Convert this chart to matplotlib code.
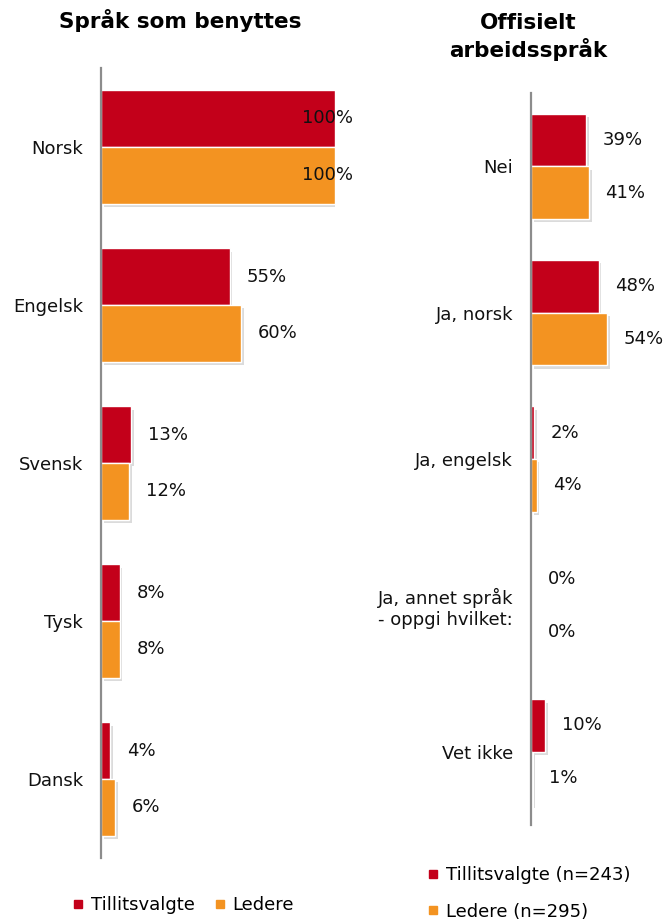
import matplotlib
matplotlib.use("Agg")
import matplotlib.pyplot as plt
import matplotlib.patheffects as pe
from matplotlib.lines import Line2D
import numpy as np

plt.rcParams['font.family'] = ['DejaVu Sans']

# data
left_title = "Språk som benyttes"
left_cats = ["Norsk", "Engelsk", "Svensk", "Tysk", "Dansk"]
left_tillit = [100, 55, 13, 8, 4]
left_ledere = [100, 60, 12, 8, 6]

right_title = "Offisielt\narbeidsspråk"
right_cats = ["Nei", "Ja, norsk", "Ja, engelsk", "Ja, annet språk\n- oppgi hvilket:", "Vet ikke"]
right_tillit = [39, 48, 2, 0, 10]
right_ledere = [41, 54, 4, 0, 1]

RED = "#C3001A"
ORANGE = "#F39321"
SPINE = "#8C8C8C"
FS = 13

fig = plt.figure(figsize=(6.71, 9.23), dpi=100)

ax1 = fig.add_axes([0.1505, 0.0704, 0.3487, 0.856])
ax2 = fig.add_axes([0.7914, 0.1062, 0.2101, 0.793])

shadow = [pe.SimplePatchShadow(offset=(2, -2.5), shadow_rgbFace="#999999", alpha=0.35), pe.Normal()]


def draw_panel(ax, cats, s1, s2):
    y = np.arange(len(cats))
    h = 0.36
    b1 = ax.barh(y - h / 2, s1, height=h, color=RED, edgecolor="white", linewidth=1)
    b2 = ax.barh(y + h / 2, s2, height=h, color=ORANGE, edgecolor="white", linewidth=1)
    for bars in (b1, b2):
        for b in bars:
            if b.get_width() > 0:
                b.set_path_effects(shadow)
    # value labels sit right of the bar, but stay inside the plot for wide bars
    for vals, off in ((s1, -h / 2), (s2, h / 2)):
        for i, v in enumerate(vals):
            ax.annotate(f"{v}%", (min(v, 79), i + off), xytext=(12, 0),
                        textcoords="offset points", ha="left", va="center",
                        fontsize=FS, color="#111111")
    ax.set_xlim(0, 100)
    ax.set_ylim(len(cats) - 0.5, -0.5)
    ax.set_yticks(y)
    ax.set_yticklabels(cats, fontsize=FS, color="#111111")
    ax.tick_params(axis="y", length=0, pad=13)
    ax.set_xticks([])
    for s in ("top", "right", "bottom"):
        ax.spines[s].set_visible(False)
    ax.spines["left"].set_color(SPINE)
    ax.spines["left"].set_linewidth(1.6)
    ax.set_zorder(2)


draw_panel(ax1, left_cats, left_tillit, left_ledere)
draw_panel(ax2, right_cats, right_tillit, right_ledere)

fig.text(180 / 671, 1 - 20 / 923, left_title, ha="center", va="center",
         fontsize=15.5, fontweight="bold")
fig.text(528 / 671, 1 - 37 / 923, right_title, ha="center", va="center",
         fontsize=15.5, fontweight="bold", linespacing=1.25)


def handle(c):
    return Line2D([], [], marker="s", color=c, linestyle="", markersize=6)


fig.legend([handle(RED), handle(ORANGE)], ["Tillitsvalgte", "Ledere"],
           loc="center left", bbox_to_anchor=(71 / 671, 18 / 923), ncol=2,
           frameon=False, fontsize=FS, handlelength=0.8, handletextpad=0.3,
           columnspacing=1.0, borderpad=0, borderaxespad=0)
fig.legend([handle(RED), handle(ORANGE)], ["Tillitsvalgte (n=243)", "Ledere (n=295)"],
           loc="center left", bbox_to_anchor=(426 / 671, 29.5 / 923), ncol=1,
           frameon=False, fontsize=FS, handlelength=0.8, handletextpad=0.3,
           labelspacing=1.0, borderpad=0, borderaxespad=0)

fig.savefig("out.png", dpi=100)
